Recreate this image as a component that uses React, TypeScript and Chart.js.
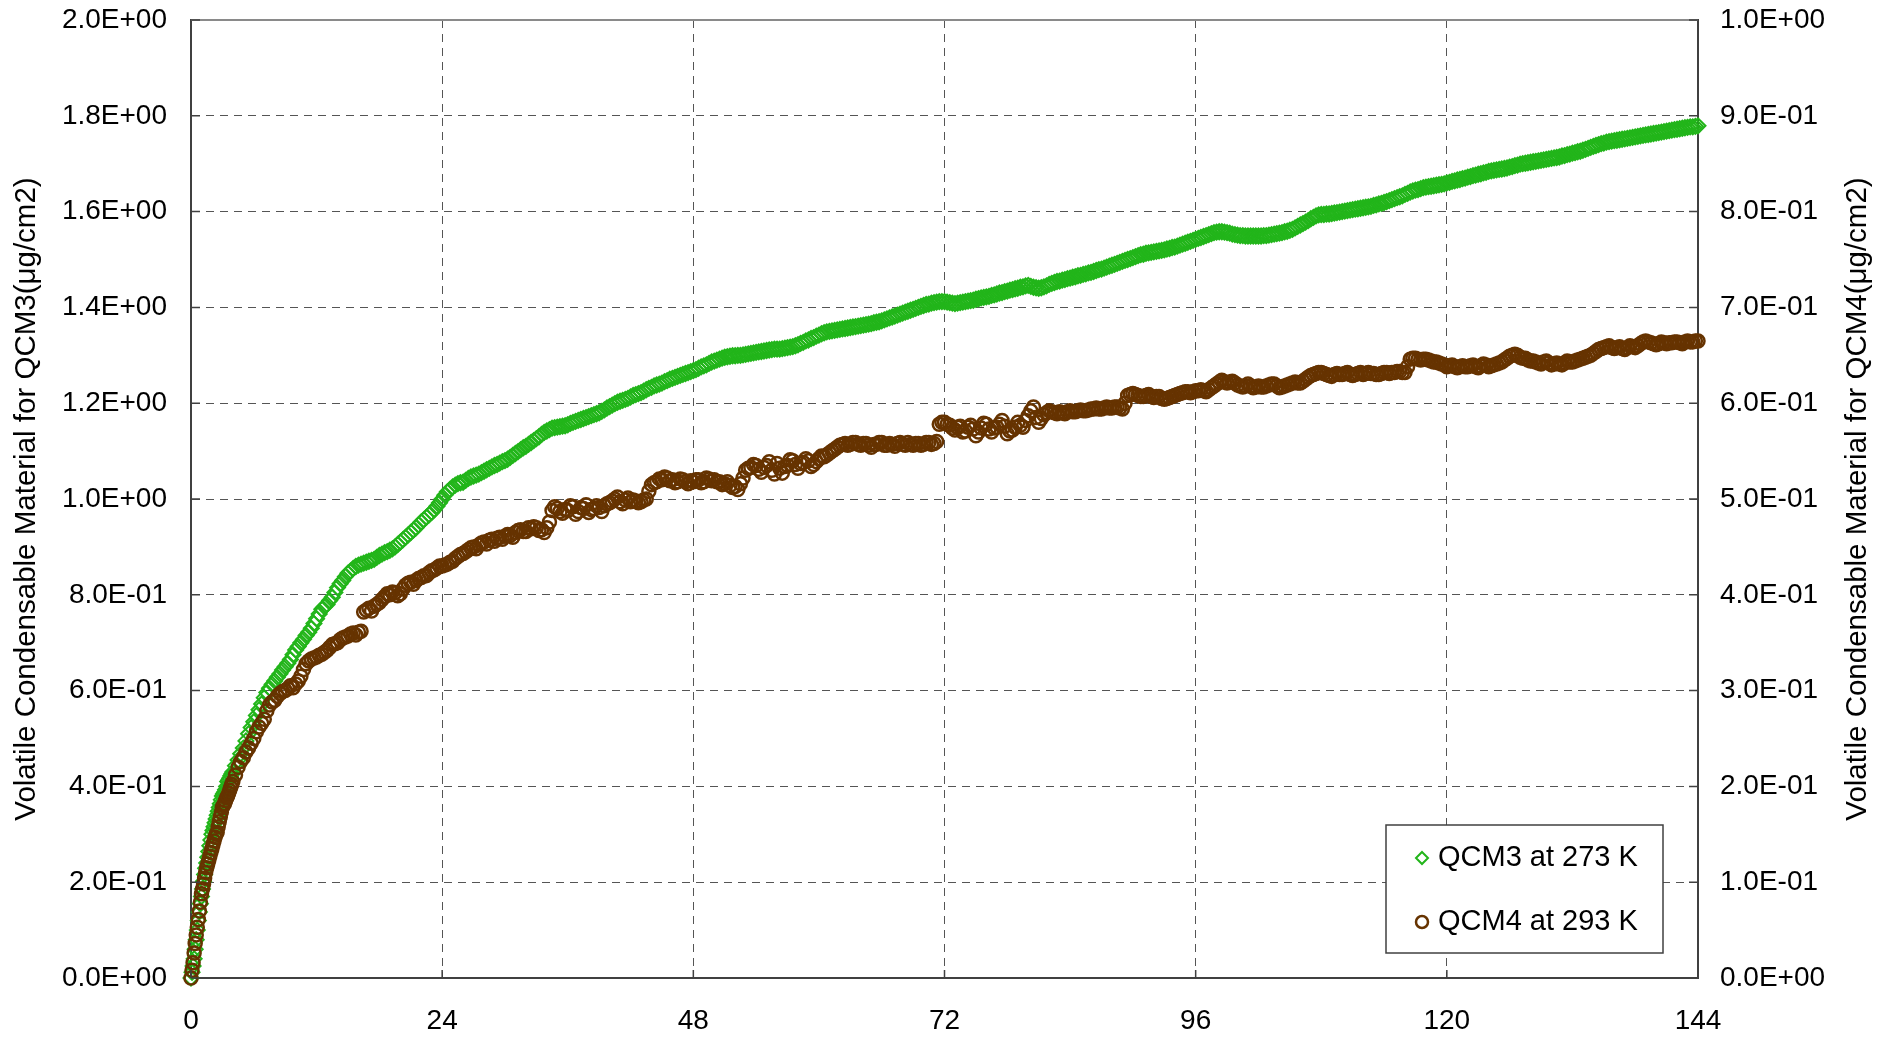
import React, { useEffect, useRef } from 'react';
import { Chart, registerables } from 'chart.js';

Chart.register(...registerables);

// Elapsed time (hours): every 0.1 h for the first 4 h, then every quarter hour
const HOURS = [
  0, 0.1, 0.2, 0.3, 0.4, 0.5, 0.6, 0.7, 0.8, 0.9,
  1, 1.1, 1.2, 1.3, 1.4, 1.5, 1.6, 1.7, 1.8, 1.9,
  2, 2.1, 2.2, 2.3, 2.4, 2.5, 2.6, 2.7, 2.8, 2.9,
  3, 3.1, 3.2, 3.3, 3.4, 3.5, 3.6, 3.7, 3.8, 3.9,
  4, 4.25, 4.5, 4.75, 5, 5.25, 5.5, 5.75,
  6, 6.25, 6.5, 6.75, 7, 7.25, 7.5, 7.75,
  8, 8.25, 8.5, 8.75, 9, 9.25, 9.5, 9.75,
  10, 10.25, 10.5, 10.75, 11, 11.25, 11.5, 11.75,
  12, 12.25, 12.5, 12.75, 13, 13.25, 13.5, 13.75,
  14, 14.25, 14.5, 14.75, 15, 15.25, 15.5, 15.75,
  16, 16.25, 16.5, 16.75, 17, 17.25, 17.5, 17.75,
  18, 18.25, 18.5, 18.75, 19, 19.25, 19.5, 19.75,
  20, 20.25, 20.5, 20.75, 21, 21.25, 21.5, 21.75,
  22, 22.25, 22.5, 22.75, 23, 23.25, 23.5, 23.75,
  24, 24.25, 24.5, 24.75, 25, 25.25, 25.5, 25.75,
  26, 26.25, 26.5, 26.75, 27, 27.25, 27.5, 27.75,
  28, 28.25, 28.5, 28.75, 29, 29.25, 29.5, 29.75,
  30, 30.25, 30.5, 30.75, 31, 31.25, 31.5, 31.75,
  32, 32.25, 32.5, 32.75, 33, 33.25, 33.5, 33.75,
  34, 34.25, 34.5, 34.75, 35, 35.25, 35.5, 35.75,
  36, 36.25, 36.5, 36.75, 37, 37.25, 37.5, 37.75,
  38, 38.25, 38.5, 38.75, 39, 39.25, 39.5, 39.75,
  40, 40.25, 40.5, 40.75, 41, 41.25, 41.5, 41.75,
  42, 42.25, 42.5, 42.75, 43, 43.25, 43.5, 43.75,
  44, 44.25, 44.5, 44.75, 45, 45.25, 45.5, 45.75,
  46, 46.25, 46.5, 46.75, 47, 47.25, 47.5, 47.75,
  48, 48.25, 48.5, 48.75, 49, 49.25, 49.5, 49.75,
  50, 50.25, 50.5, 50.75, 51, 51.25, 51.5, 51.75,
  52, 52.25, 52.5, 52.75, 53, 53.25, 53.5, 53.75,
  54, 54.25, 54.5, 54.75, 55, 55.25, 55.5, 55.75,
  56, 56.25, 56.5, 56.75, 57, 57.25, 57.5, 57.75,
  58, 58.25, 58.5, 58.75, 59, 59.25, 59.5, 59.75,
  60, 60.25, 60.5, 60.75, 61, 61.25, 61.5, 61.75,
  62, 62.25, 62.5, 62.75, 63, 63.25, 63.5, 63.75,
  64, 64.25, 64.5, 64.75, 65, 65.25, 65.5, 65.75,
  66, 66.25, 66.5, 66.75, 67, 67.25, 67.5, 67.75,
  68, 68.25, 68.5, 68.75, 69, 69.25, 69.5, 69.75,
  70, 70.25, 70.5, 70.75, 71, 71.25, 71.5, 71.75,
  72, 72.25, 72.5, 72.75, 73, 73.25, 73.5, 73.75,
  74, 74.25, 74.5, 74.75, 75, 75.25, 75.5, 75.75,
  76, 76.25, 76.5, 76.75, 77, 77.25, 77.5, 77.75,
  78, 78.25, 78.5, 78.75, 79, 79.25, 79.5, 79.75,
  80, 80.25, 80.5, 80.75, 81, 81.25, 81.5, 81.75,
  82, 82.25, 82.5, 82.75, 83, 83.25, 83.5, 83.75,
  84, 84.25, 84.5, 84.75, 85, 85.25, 85.5, 85.75,
  86, 86.25, 86.5, 86.75, 87, 87.25, 87.5, 87.75,
  88, 88.25, 88.5, 88.75, 89, 89.25, 89.5, 89.75,
  90, 90.25, 90.5, 90.75, 91, 91.25, 91.5, 91.75,
  92, 92.25, 92.5, 92.75, 93, 93.25, 93.5, 93.75,
  94, 94.25, 94.5, 94.75, 95, 95.25, 95.5, 95.75,
  96, 96.25, 96.5, 96.75, 97, 97.25, 97.5, 97.75,
  98, 98.25, 98.5, 98.75, 99, 99.25, 99.5, 99.75,
  100, 100.25, 100.5, 100.75, 101, 101.25, 101.5, 101.75,
  102, 102.25, 102.5, 102.75, 103, 103.25, 103.5, 103.75,
  104, 104.25, 104.5, 104.75, 105, 105.25, 105.5, 105.75,
  106, 106.25, 106.5, 106.75, 107, 107.25, 107.5, 107.75,
  108, 108.25, 108.5, 108.75, 109, 109.25, 109.5, 109.75,
  110, 110.25, 110.5, 110.75, 111, 111.25, 111.5, 111.75,
  112, 112.25, 112.5, 112.75, 113, 113.25, 113.5, 113.75,
  114, 114.25, 114.5, 114.75, 115, 115.25, 115.5, 115.75,
  116, 116.25, 116.5, 116.75, 117, 117.25, 117.5, 117.75,
  118, 118.25, 118.5, 118.75, 119, 119.25, 119.5, 119.75,
  120, 120.25, 120.5, 120.75, 121, 121.25, 121.5, 121.75,
  122, 122.25, 122.5, 122.75, 123, 123.25, 123.5, 123.75,
  124, 124.25, 124.5, 124.75, 125, 125.25, 125.5, 125.75,
  126, 126.25, 126.5, 126.75, 127, 127.25, 127.5, 127.75,
  128, 128.25, 128.5, 128.75, 129, 129.25, 129.5, 129.75,
  130, 130.25, 130.5, 130.75, 131, 131.25, 131.5, 131.75,
  132, 132.25, 132.5, 132.75, 133, 133.25, 133.5, 133.75,
  134, 134.25, 134.5, 134.75, 135, 135.25, 135.5, 135.75,
  136, 136.25, 136.5, 136.75, 137, 137.25, 137.5, 137.75,
  138, 138.25, 138.5, 138.75, 139, 139.25, 139.5, 139.75,
  140, 140.25, 140.5, 140.75, 141, 141.25, 141.5, 141.75,
  142, 142.25, 142.5, 142.75, 143, 143.25, 143.5, 143.75,
  144,
];

// QCM3 at 273 K (left axis, ug/cm2)
const QCM3 = [
  0, 0.012, 0.025, 0.04, 0.06, 0.08, 0.1, 0.12, 0.138, 0.155,
  0.17, 0.186, 0.202, 0.216, 0.229, 0.24, 0.252, 0.264, 0.276, 0.288,
  0.30, 0.308, 0.316, 0.324, 0.332, 0.34, 0.348, 0.356, 0.364, 0.372,
  0.38, 0.384, 0.388, 0.393, 0.40, 0.41, 0.413, 0.417, 0.422, 0.426,
  0.43, 0.443, 0.455, 0.468, 0.48, 0.495, 0.51, 0.523,
  0.535, 0.548, 0.56, 0.572, 0.585, 0.596, 0.605, 0.613,
  0.62, 0.628, 0.635, 0.643, 0.65, 0.657, 0.665, 0.675,
  0.685, 0.692, 0.70, 0.707, 0.715, 0.722, 0.73, 0.74,
  0.75, 0.76, 0.77, 0.775, 0.78, 0.788, 0.795, 0.805,
  0.815, 0.823, 0.83, 0.838, 0.845, 0.85, 0.855, 0.859,
  0.862, 0.864, 0.866, 0.868, 0.87, 0.872, 0.874, 0.878,
  0.882, 0.885, 0.888, 0.89, 0.893, 0.896, 0.90, 0.905,
  0.91, 0.915, 0.92, 0.925, 0.93, 0.935, 0.94, 0.946,
  0.952, 0.957, 0.962, 0.967, 0.972, 0.978, 0.985, 0.992,
  1.0, 1.008, 1.015, 1.02, 1.025, 1.029, 1.032, 1.034,
  1.035, 1.039, 1.043, 1.046, 1.048, 1.05, 1.052, 1.055,
  1.058, 1.061, 1.064, 1.067, 1.07, 1.072, 1.075, 1.078,
  1.08, 1.083, 1.087, 1.091, 1.095, 1.099, 1.103, 1.107,
  1.11, 1.114, 1.118, 1.122, 1.126, 1.13, 1.135, 1.139,
  1.142, 1.145, 1.148, 1.149, 1.15, 1.151, 1.152, 1.153,
  1.155, 1.158, 1.16, 1.162, 1.164, 1.166, 1.168, 1.17,
  1.172, 1.174, 1.176, 1.178, 1.18, 1.183, 1.186, 1.19,
  1.193, 1.196, 1.199, 1.202, 1.204, 1.206, 1.208, 1.21,
  1.213, 1.216, 1.218, 1.22, 1.222, 1.225, 1.228, 1.231,
  1.233, 1.236, 1.238, 1.24, 1.242, 1.245, 1.247, 1.25,
  1.252, 1.254, 1.256, 1.258, 1.26, 1.262, 1.264, 1.266,
  1.268, 1.27, 1.273, 1.276, 1.278, 1.28, 1.283, 1.286,
  1.288, 1.29, 1.292, 1.294, 1.296, 1.297, 1.298, 1.299,
  1.299, 1.30, 1.30, 1.301, 1.302, 1.303, 1.304, 1.305,
  1.306, 1.307, 1.308, 1.309, 1.31, 1.311, 1.312, 1.313,
  1.313, 1.313, 1.314, 1.315, 1.316, 1.317, 1.318, 1.32,
  1.322, 1.325, 1.327, 1.33, 1.332, 1.335, 1.337, 1.34,
  1.342, 1.345, 1.347, 1.349, 1.35, 1.351, 1.352, 1.353,
  1.354, 1.355, 1.356, 1.357, 1.358, 1.359, 1.36, 1.361,
  1.362, 1.363, 1.364, 1.365, 1.366, 1.368, 1.369, 1.37,
  1.372, 1.374, 1.376, 1.378, 1.38, 1.382, 1.384, 1.386,
  1.388, 1.39, 1.392, 1.394, 1.396, 1.398, 1.40, 1.402,
  1.404, 1.406, 1.407, 1.409, 1.41, 1.411, 1.412, 1.412,
  1.412, 1.411, 1.41, 1.409, 1.408, 1.409, 1.41, 1.411,
  1.412, 1.413, 1.414, 1.415, 1.417, 1.418, 1.42, 1.421,
  1.422, 1.423, 1.425, 1.426, 1.428, 1.43, 1.431, 1.433,
  1.434, 1.436, 1.437, 1.439, 1.44, 1.442, 1.443, 1.445,
  1.446, 1.444, 1.442, 1.441, 1.44, 1.441, 1.443, 1.445,
  1.448, 1.45, 1.452, 1.454, 1.455, 1.457, 1.458, 1.46,
  1.461, 1.463, 1.464, 1.466, 1.467, 1.469, 1.47, 1.472,
  1.473, 1.475, 1.477, 1.479, 1.48, 1.482, 1.484, 1.486,
  1.488, 1.49, 1.492, 1.494, 1.496, 1.498, 1.50, 1.502,
  1.504, 1.506, 1.508, 1.51, 1.511, 1.513, 1.514, 1.515,
  1.516, 1.517, 1.518, 1.519, 1.52, 1.522, 1.523, 1.525,
  1.526, 1.528, 1.53, 1.532, 1.534, 1.536, 1.538, 1.54,
  1.542, 1.544, 1.546, 1.548, 1.55, 1.552, 1.554, 1.556,
  1.557, 1.558, 1.558, 1.557, 1.556, 1.555, 1.553, 1.552,
  1.551, 1.55, 1.55, 1.549, 1.549, 1.549, 1.549, 1.549,
  1.549, 1.549, 1.55, 1.55, 1.551, 1.552, 1.553, 1.554,
  1.555, 1.556, 1.558, 1.559, 1.561, 1.563, 1.566, 1.569,
  1.572, 1.575, 1.578, 1.581, 1.585, 1.588, 1.591, 1.593,
  1.594, 1.594, 1.595, 1.595, 1.596, 1.597, 1.598, 1.599,
  1.60, 1.601, 1.602, 1.603, 1.604, 1.605, 1.606, 1.607,
  1.608, 1.609, 1.61, 1.611, 1.613, 1.614, 1.616, 1.617,
  1.619, 1.621, 1.623, 1.625, 1.627, 1.629, 1.631, 1.633,
  1.636, 1.638, 1.641, 1.643, 1.645, 1.646, 1.648, 1.65,
  1.651, 1.652, 1.653, 1.654, 1.655, 1.656, 1.657, 1.658,
  1.66, 1.661, 1.663, 1.664, 1.666, 1.667, 1.669, 1.67,
  1.672, 1.673, 1.675, 1.676, 1.678, 1.679, 1.681, 1.682,
  1.684, 1.685, 1.686, 1.687, 1.688, 1.689, 1.69, 1.691,
  1.693, 1.694, 1.696, 1.697, 1.699, 1.70, 1.701, 1.702,
  1.703, 1.704, 1.705, 1.706, 1.707, 1.708, 1.709, 1.71,
  1.711, 1.712, 1.713, 1.714, 1.716, 1.717, 1.719, 1.72,
  1.722, 1.723, 1.725, 1.726, 1.728, 1.73, 1.732, 1.734,
  1.736, 1.738, 1.74, 1.742, 1.743, 1.745, 1.746, 1.747,
  1.748, 1.749, 1.75, 1.751, 1.752, 1.753, 1.754, 1.755,
  1.756, 1.757, 1.758, 1.759, 1.76, 1.761, 1.762, 1.763,
  1.764, 1.765, 1.766, 1.767, 1.768, 1.769, 1.77, 1.771,
  1.772, 1.773, 1.774, 1.775, 1.776, 1.777, 1.777, 1.778,
  1.779,
];

// QCM4 at 293 K (right axis, ug/cm2)
const QCM4 = [
  0, 0.008, 0.016, 0.026, 0.036, 0.045, 0.053, 0.061, 0.07, 0.079,
  0.088, 0.093, 0.098, 0.104, 0.11, 0.115, 0.119, 0.123, 0.127, 0.131,
  0.135, 0.139, 0.143, 0.147, 0.15, 0.152, 0.158, 0.163, 0.168, 0.173,
  0.178, 0.18, 0.182, 0.185, 0.188, 0.19, 0.193, 0.196, 0.199, 0.202,
  0.205, 0.212, 0.22, 0.226, 0.23, 0.236, 0.24, 0.245,
  0.25, 0.257, 0.262, 0.266, 0.27, 0.279, 0.285, 0.288,
  0.29, 0.294, 0.297, 0.299, 0.30, 0.302, 0.305, 0.303,
  0.307, 0.31, 0.315, 0.322, 0.328, 0.331, 0.333, 0.334,
  0.335, 0.337, 0.338, 0.34, 0.342, 0.345, 0.348, 0.349,
  0.35, 0.353, 0.355, 0.356, 0.357, 0.359, 0.36, 0.358,
  0.361, 0.362, 0.382, 0.384, 0.386, 0.383, 0.388, 0.39,
  0.392, 0.395, 0.398, 0.401, 0.40, 0.403, 0.402, 0.399,
  0.401, 0.406, 0.41, 0.412, 0.413, 0.411, 0.415, 0.417,
  0.418, 0.42, 0.42, 0.423, 0.425, 0.426, 0.428, 0.43,
  0.43, 0.431, 0.432, 0.434, 0.435, 0.438, 0.44, 0.442,
  0.443, 0.445, 0.447, 0.449, 0.45, 0.448, 0.452, 0.454,
  0.455, 0.453, 0.457, 0.458, 0.456, 0.459, 0.46, 0.458,
  0.461, 0.463, 0.462, 0.46, 0.465, 0.467, 0.468, 0.466,
  0.466, 0.47, 0.469, 0.471, 0.47, 0.467, 0.468, 0.465,
  0.47, 0.476, 0.488, 0.492, 0.49, 0.487, 0.485, 0.489,
  0.488, 0.493, 0.492, 0.484, 0.487, 0.491, 0.49, 0.494,
  0.486, 0.489, 0.49, 0.493, 0.491, 0.487, 0.493, 0.495,
  0.496, 0.498, 0.5, 0.502, 0.497, 0.495, 0.499, 0.501,
  0.497, 0.499, 0.498, 0.496, 0.497, 0.499, 0.5, 0.508,
  0.515, 0.517, 0.518, 0.521, 0.52, 0.523, 0.522, 0.519,
  0.52, 0.517, 0.518, 0.521, 0.52, 0.518, 0.516, 0.519,
  0.518, 0.52, 0.52, 0.517, 0.518, 0.522, 0.521, 0.519,
  0.52, 0.518, 0.518, 0.515, 0.516, 0.518, 0.514, 0.512,
  0.513, 0.51, 0.516, 0.522, 0.53, 0.532, 0.533, 0.536,
  0.535, 0.531, 0.528, 0.533, 0.535, 0.539, 0.53, 0.526,
  0.537, 0.532, 0.527, 0.534, 0.535, 0.541, 0.54, 0.536,
  0.532, 0.537, 0.538, 0.542, 0.54, 0.534, 0.536, 0.539,
  0.542, 0.545, 0.544, 0.546, 0.548, 0.55, 0.552, 0.554,
  0.556, 0.557, 0.558, 0.556, 0.557, 0.559, 0.559, 0.557,
  0.556, 0.558, 0.558, 0.556, 0.554, 0.557, 0.557, 0.559,
  0.559, 0.556, 0.556, 0.558, 0.557, 0.555, 0.558, 0.559,
  0.557, 0.556, 0.559, 0.557, 0.556, 0.558, 0.558, 0.556,
  0.557, 0.559, 0.559, 0.557, 0.558, 0.56, 0.578, 0.58,
  0.58, 0.578, 0.577, 0.574, 0.572, 0.575, 0.576, 0.57,
  0.571, 0.575, 0.577, 0.573, 0.566, 0.57, 0.574, 0.579,
  0.578, 0.573, 0.57, 0.574, 0.575, 0.578, 0.582, 0.576,
  0.568, 0.571, 0.572, 0.575, 0.58, 0.577, 0.575, 0.582,
  0.587, 0.592, 0.596, 0.585, 0.58, 0.584, 0.588, 0.59,
  0.592, 0.591, 0.59, 0.589, 0.591, 0.59, 0.589, 0.591,
  0.592, 0.591, 0.591, 0.592, 0.593, 0.592, 0.592, 0.593,
  0.594, 0.594, 0.595, 0.594, 0.594, 0.595, 0.596, 0.595,
  0.595, 0.596, 0.596, 0.595, 0.594, 0.6, 0.608, 0.609,
  0.61, 0.609, 0.608, 0.607, 0.607, 0.608, 0.609, 0.607,
  0.606, 0.607, 0.607, 0.605, 0.604, 0.605, 0.606, 0.607,
  0.608, 0.609, 0.61, 0.611, 0.612, 0.612, 0.611, 0.612,
  0.613, 0.613, 0.614, 0.613, 0.612, 0.614, 0.616, 0.618,
  0.62, 0.622, 0.624, 0.622, 0.621, 0.622, 0.623, 0.621,
  0.619, 0.618, 0.617, 0.618, 0.62, 0.618, 0.616, 0.617,
  0.618, 0.617, 0.617, 0.618, 0.619, 0.62, 0.62, 0.618,
  0.616, 0.617, 0.618, 0.619, 0.62, 0.621, 0.622, 0.621,
  0.621, 0.623, 0.625, 0.627, 0.629, 0.63, 0.631, 0.632,
  0.632, 0.631, 0.63, 0.629, 0.628, 0.63, 0.631, 0.63,
  0.63, 0.631, 0.632, 0.63, 0.629, 0.63, 0.631, 0.632,
  0.63, 0.631, 0.632, 0.631, 0.631, 0.63, 0.63, 0.631,
  0.632, 0.632, 0.631, 0.632, 0.632, 0.633, 0.633, 0.632,
  0.632, 0.638, 0.646, 0.647, 0.647, 0.646, 0.645, 0.646,
  0.646, 0.645, 0.644, 0.643, 0.643, 0.642, 0.641, 0.64,
  0.638, 0.639, 0.64, 0.638, 0.637, 0.638, 0.639, 0.638,
  0.638, 0.639, 0.64, 0.638, 0.637, 0.639, 0.641, 0.64,
  0.638, 0.639, 0.64, 0.641, 0.642, 0.643, 0.645, 0.647,
  0.649, 0.65, 0.651, 0.65, 0.648, 0.647, 0.647, 0.645,
  0.644, 0.644, 0.643, 0.642, 0.641, 0.643, 0.644, 0.642,
  0.64, 0.641, 0.642, 0.641, 0.64, 0.642, 0.644, 0.643,
  0.643, 0.644, 0.645, 0.646, 0.647, 0.648, 0.649, 0.65,
  0.652, 0.654, 0.656, 0.657, 0.658, 0.659, 0.66, 0.658,
  0.657, 0.658, 0.659, 0.657, 0.656, 0.658, 0.66, 0.659,
  0.658, 0.66, 0.662, 0.664, 0.665, 0.664, 0.663, 0.662,
  0.661, 0.662, 0.664, 0.663, 0.662, 0.663, 0.663, 0.664,
  0.664, 0.663, 0.662, 0.664, 0.665, 0.664, 0.664, 0.665,
  0.665,
];

const X_TICKS = [0, 24, 48, 72, 96, 120, 144];
const LEFT_TICKS = [0, 0.2, 0.4, 0.6, 0.8, 1.0, 1.2, 1.4, 1.6, 1.8, 2.0];
const LEFT_LABELS = ['0.0E+00', '2.0E-01', '4.0E-01', '6.0E-01', '8.0E-01', '1.0E+00', '1.2E+00', '1.4E+00', '1.6E+00', '1.8E+00', '2.0E+00'];
const RIGHT_TICKS = [0, 0.1, 0.2, 0.3, 0.4, 0.5, 0.6, 0.7, 0.8, 0.9, 1.0];
const RIGHT_LABELS = ['0.0E+00', '1.0E-01', '2.0E-01', '3.0E-01', '4.0E-01', '5.0E-01', '6.0E-01', '7.0E-01', '8.0E-01', '9.0E-01', '1.0E+00'];
const SERIES_NAMES = ['QCM3 at 273 K', 'QCM4 at 293 K'];
const LEFT_TITLE = 'Volatile Condensable Material for QCM3(μg/cm2)';
const RIGHT_TITLE = 'Volatile Condensable Material for QCM4(μg/cm2)';

const GREEN = '#22B51A';
const BROWN = '#663300';
const FONT = "'Liberation Sans', Arial, sans-serif";
const TICK_FONT_SIZE = 28;
const TITLE_FONT_SIZE = 29.5;
const LEGEND_FONT_SIZE = 29;

const W = 1895;
const H = 1037;
const AREA = { left: 191, right: 1698, top: 20, bottom: 978 };

const overlayPlugin = {
  id: 'overlay',
  afterDraw(chart: any) {
    const { ctx, chartArea: a, scales } = chart;
    ctx.save();
    ctx.strokeStyle = '#8a8a8a';
    ctx.lineWidth = 2;
    ctx.beginPath();
    ctx.moveTo(a.left, a.top);
    ctx.lineTo(a.right, a.top);
    ctx.stroke();

    ctx.strokeStyle = '#404040';
    ctx.lineWidth = 1.5;
    ctx.beginPath();
    X_TICKS.forEach((t) => {
      const px = scales.x.getPixelForValue(t);
      ctx.moveTo(px, a.bottom);
      ctx.lineTo(px, a.bottom - 8);
    });
    LEFT_TICKS.forEach((v) => {
      const py = scales.y.getPixelForValue(v);
      ctx.moveTo(a.left, py);
      ctx.lineTo(a.left + 9, py);
    });
    RIGHT_TICKS.forEach((v) => {
      const py = scales.y2.getPixelForValue(v);
      ctx.moveTo(a.right, py);
      ctx.lineTo(a.right - 9, py);
    });
    ctx.stroke();

    ctx.fillStyle = '#000';
    ctx.font = `${TITLE_FONT_SIZE}px ${FONT}`;
    ctx.textAlign = 'center';
    ctx.textBaseline = 'middle';
    const cy = (a.top + a.bottom) / 2;
    ctx.save();
    ctx.translate(27, cy);
    ctx.rotate(-Math.PI / 2);
    ctx.fillText(LEFT_TITLE, 0, 0);
    ctx.restore();
    ctx.save();
    ctx.translate(1858, cy);
    ctx.rotate(-Math.PI / 2);
    ctx.fillText(RIGHT_TITLE, 0, 0);
    ctx.restore();

    const lx = 1386, ly = 825, lw = 277, lh = 128;
    ctx.fillStyle = '#ffffff';
    ctx.fillRect(lx, ly, lw, lh);
    ctx.strokeStyle = '#404040';
    ctx.lineWidth = 1.5;
    ctx.strokeRect(lx, ly, lw, lh);
    const rows = [858, 922];
    ctx.strokeStyle = GREEN;
    ctx.lineWidth = 2;
    ctx.beginPath();
    ctx.moveTo(1422, rows[0] - 6);
    ctx.lineTo(1428, rows[0]);
    ctx.lineTo(1422, rows[0] + 6);
    ctx.lineTo(1416, rows[0]);
    ctx.closePath();
    ctx.stroke();
    ctx.strokeStyle = BROWN;
    ctx.lineWidth = 2.5;
    ctx.beginPath();
    ctx.arc(1422, rows[1], 6, 0, Math.PI * 2);
    ctx.stroke();
    ctx.fillStyle = '#000';
    ctx.font = `${LEGEND_FONT_SIZE}px ${FONT}`;
    ctx.textAlign = 'left';
    ctx.textBaseline = 'middle';
    ctx.fillText(SERIES_NAMES[0], 1438, rows[0]);
    ctx.fillText(SERIES_NAMES[1], 1438, rows[1]);
    ctx.restore();
  },
};

export default function App() {
  const ref = useRef<HTMLCanvasElement | null>(null);

  useEffect(() => {
    if (!ref.current) return;
    const gridCommon = {
      color: '#555555',
      lineWidth: 1,
      drawTicks: false,
    };
    const chart = new Chart(ref.current, {
      type: 'scatter',
      data: {
        datasets: [
          {
            label: SERIES_NAMES[0],
            data: HOURS.map((h, i) => ({ x: h, y: QCM3[i] })),
            yAxisID: 'y',
            order: 1,
            pointStyle: 'rectRot',
            pointRadius: 7.5,
            pointBorderWidth: 2,
            pointBorderColor: GREEN,
            pointBackgroundColor: 'rgba(0,0,0,0)',
            showLine: false,
            clip: false,
          },
          {
            label: SERIES_NAMES[1],
            data: HOURS.map((h, i) => ({ x: h, y: QCM4[i] })),
            yAxisID: 'y2',
            order: 0,
            pointStyle: 'circle',
            pointRadius: 6.5,
            pointBorderWidth: 2.5,
            pointBorderColor: BROWN,
            pointBackgroundColor: 'rgba(0,0,0,0)',
            showLine: false,
            clip: false,
          },
        ],
      },
      options: {
        responsive: false,
        devicePixelRatio: 1,
        animation: false,
        events: [],
        layout: { padding: { top: AREA.top, left: 0, right: 0, bottom: 0 } },
        plugins: {
          legend: { display: false },
          tooltip: { enabled: false },
          title: { display: false },
        },
        scales: {
          x: {
            type: 'linear',
            position: 'bottom',
            min: 0,
            max: 144,
            afterBuildTicks: (s: any) => {
              s.ticks = X_TICKS.map((v) => ({ value: v }));
            },
            afterFit: (s: any) => {
              s.height = H - AREA.bottom;
              s.paddingLeft = 0;
              s.paddingRight = 0;
            },
            ticks: {
              color: '#000',
              font: { family: FONT, size: TICK_FONT_SIZE },
              padding: 26,
              maxRotation: 0,
              autoSkip: false,
              callback: (v: any) => String(v),
            },
            grid: { ...gridCommon },
            border: { display: true, color: '#404040', width: 2, dash: [8, 6] },
          },
          y: {
            type: 'linear',
            position: 'left',
            min: 0,
            max: 2,
            afterBuildTicks: (s: any) => {
              s.ticks = LEFT_TICKS.map((v) => ({ value: v }));
            },
            afterFit: (s: any) => {
              s.width = AREA.left;
              s.paddingTop = 0;
              s.paddingBottom = 0;
            },
            ticks: {
              color: '#000',
              font: { family: FONT, size: TICK_FONT_SIZE },
              padding: 24,
              autoSkip: false,
              callback: (_v: any, i: number) => LEFT_LABELS[i],
            },
            grid: { ...gridCommon },
            border: { display: true, color: '#404040', width: 2, dash: [8, 6] },
          },
          y2: {
            type: 'linear',
            position: 'right',
            min: 0,
            max: 1,
            afterBuildTicks: (s: any) => {
              s.ticks = RIGHT_TICKS.map((v) => ({ value: v }));
            },
            afterFit: (s: any) => {
              s.width = W - AREA.right;
              s.paddingTop = 0;
              s.paddingBottom = 0;
            },
            ticks: {
              color: '#000',
              font: { family: FONT, size: TICK_FONT_SIZE },
              padding: 22,
              autoSkip: false,
              callback: (_v: any, i: number) => RIGHT_LABELS[i],
            },
            grid: { drawOnChartArea: false, drawTicks: false },
            border: { display: true, color: '#404040', width: 2 },
          },
        },
      },
      plugins: [overlayPlugin],
    } as any);
    return () => chart.destroy();
  }, []);

  return (
    <canvas
      ref={ref}
      width={W}
      height={H}
      style={{ position: 'absolute', left: 0, top: 0, width: W, height: H, display: 'block' }}
    />
  );
}
